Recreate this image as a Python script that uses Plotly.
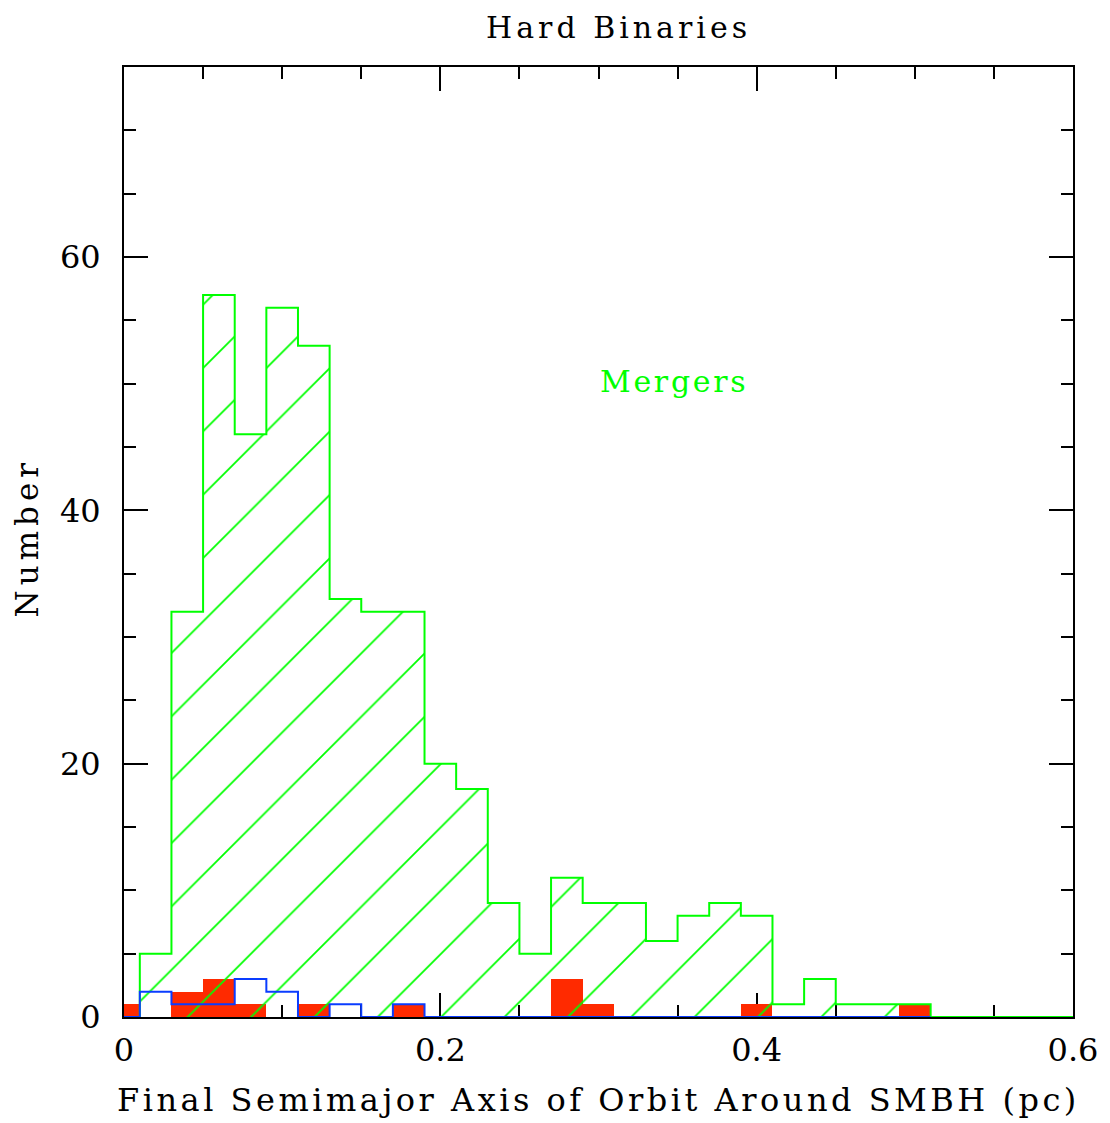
import plotly.graph_objects as go

# ---- data ----
bin_width = 0.02
centers = [0.00, 0.02, 0.04, 0.06, 0.08, 0.10, 0.12, 0.14, 0.16, 0.18,
           0.20, 0.22, 0.24, 0.26, 0.28, 0.30, 0.32, 0.34, 0.36, 0.38,
           0.40, 0.42, 0.44, 0.46, 0.48, 0.50, 0.52, 0.54, 0.56, 0.58, 0.60]
mergers = [0, 5, 32, 57, 46, 56, 53, 33, 32, 32,
           20, 18, 9, 5, 11, 9, 9, 6, 8, 9,
           8, 1, 3, 1, 1, 1, 0, 0, 0, 0, 0]
red_counts = [1, 0, 2, 3, 1, 0, 1, 0, 0, 1,
              0, 0, 0, 0, 3, 1, 0, 0, 0, 0,
              1, 0, 0, 0, 0, 1]
blue_counts = [0, 2, 1, 1, 3, 2, 0, 1, 0, 1,
               0, 0, 0, 0, 0, 0, 0, 0, 0, 0,
               0, 0, 0, 0, 0, 0]
x_ticks = [0, 0.2, 0.4, 0.6]
x_tick_labels = ["0", "0.2", "0.4", "0.6"]
y_ticks = [0, 20, 40, 60]
y_tick_labels = ["0", "20", "40", "60"]

GREEN = "#00ff00"
RED = "#ff2a00"
BLUE = "#0a3cff"
FONT = "DejaVu Serif"


def step_xy(counts):
    left = [c - bin_width / 2 for c in centers[:len(counts)]]
    xs = left + [left[-1] + bin_width]
    ys = list(counts) + [counts[-1]]
    return xs, ys


def spaced(text, px):
    return '<span style="letter-spacing:%.1fpx">%s</span>' % (px, text)


fig = go.Figure()

# red filled histogram
fig.add_trace(go.Bar(
    x=centers[:len(red_counts)], y=red_counts, width=bin_width,
    marker=dict(color=RED, line=dict(width=0)), showlegend=False,
))

# green hatched histogram
fig.add_trace(go.Bar(
    x=centers, y=mergers, width=bin_width,
    marker=dict(color="rgba(0,0,0,0)", line=dict(width=0),
                pattern=dict(shape="/", fgcolor=GREEN, bgcolor="rgba(0,0,0,0)",
                             fgopacity=1, size=44.8, solidity=0.04)),
    showlegend=False,
))

gx, gy = step_xy(mergers)
fig.add_trace(go.Scatter(x=gx, y=gy, mode="lines", line=dict(color=GREEN, width=2, shape="hv"),
                         showlegend=False))
bx, by = step_xy(blue_counts)
fig.add_trace(go.Scatter(x=bx, y=by, mode="lines", line=dict(color=BLUE, width=2, shape="hv"),
                         showlegend=False))

axis_common = dict(
    showline=True, linecolor="black", linewidth=2, mirror="allticks",
    ticks="inside", ticklen=24, tickwidth=2, tickcolor="black",
    showgrid=False, zeroline=False, layer="below traces",
    tickfont=dict(family=FONT, size=32, color="black"),
)

fig.update_xaxes(range=[0, 0.6], tickvals=x_ticks, ticktext=x_tick_labels,
                 ticklabelstandoff=4,
                 minor=dict(dtick=0.05, tick0=0, ticks="inside", ticklen=12, tickwidth=2,
                            tickcolor="black", showgrid=False),
                 **axis_common)
fig.update_yaxes(range=[0, 75], tickvals=y_ticks, ticktext=y_tick_labels,
                 ticklabelstandoff=15,
                 minor=dict(dtick=5, tick0=0, ticks="inside", ticklen=12, tickwidth=2,
                            tickcolor="black", showgrid=False),
                 **axis_common)

fig.update_layout(
    width=1102, height=1115,
    margin=dict(l=116, r=35, t=59, b=106),
    paper_bgcolor="white", plot_bgcolor="white",
    barmode="overlay", bargap=0,
    font=dict(family=FONT, color="black"),
    annotations=[
        dict(text=spaced("Hard Binaries", 4), xref="paper", yref="paper", x=0.5216, y=1.0 + 40 / 950,
             showarrow=False, xanchor="center", yanchor="middle", borderpad=0,
             font=dict(family=FONT, size=30, color="black")),
        dict(text=spaced("Final Semimajor Axis of Orbit Around SMBH (pc)", 3.5), xref="paper", yref="paper",
             x=0.5, y=-83 / 950, showarrow=False, xanchor="center", yanchor="middle",
             font=dict(family=FONT, size=32, color="black")),
        dict(text=spaced("Number", 5), xref="paper", yref="paper", x=-97 / 951, y=0.505, textangle=-90,
             showarrow=False, xanchor="center", yanchor="middle",
             font=dict(family=FONT, size=31, color="black")),
        dict(text=spaced("Mergers", 2.7), xref="x", yref="y", x=0.348, y=50.2, showarrow=False,
             xanchor="center", yanchor="middle",
             font=dict(family=FONT, size=30, color=GREEN)),
    ],
)

fig.write_html("out.html")
